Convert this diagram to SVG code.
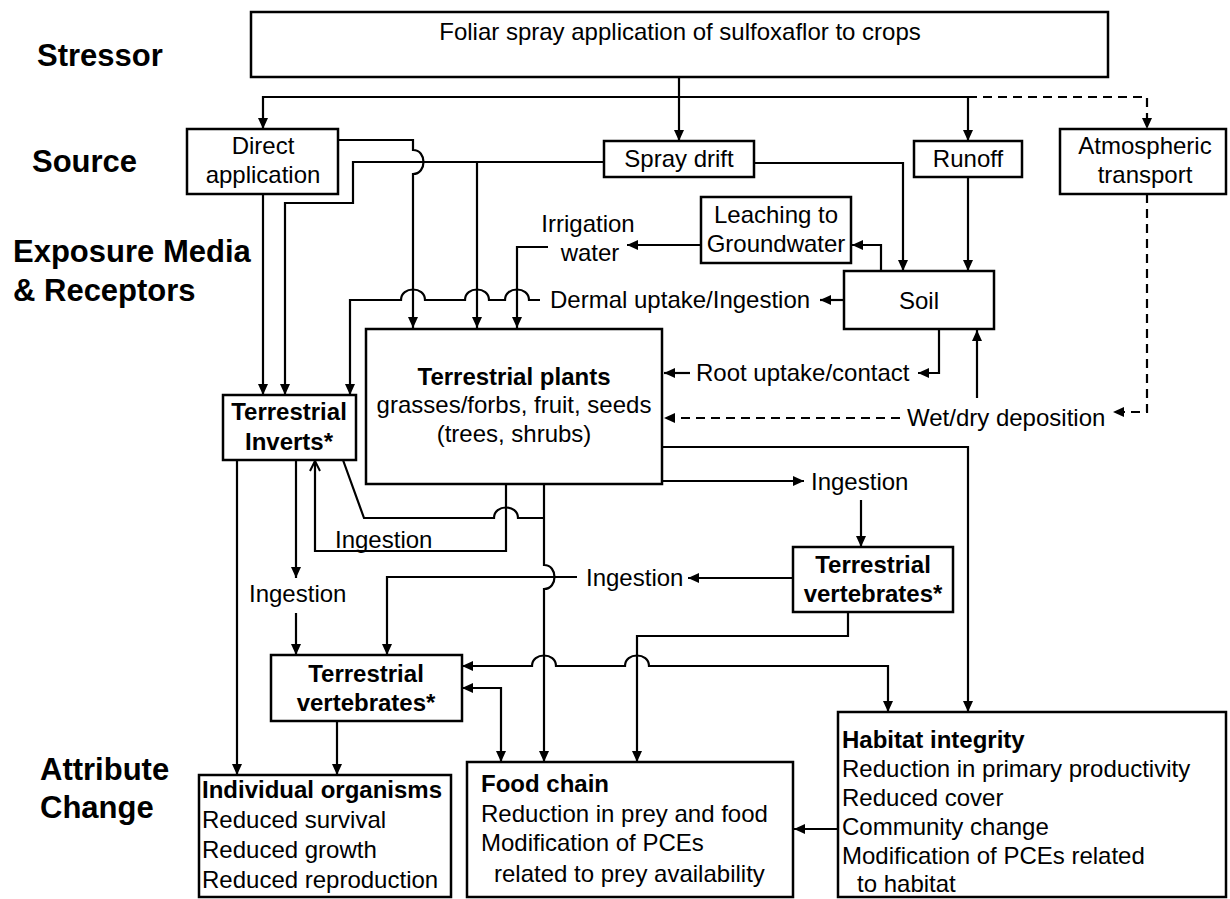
<svg xmlns="http://www.w3.org/2000/svg" width="1230" height="899" viewBox="0 0 1230 899">
<defs>
<style>
text{font-family:"Liberation Sans",Arial,sans-serif;font-size:24px;fill:#000}
.lab{font-size:31px;font-weight:bold}
.b{font-weight:bold}
.m{text-anchor:middle}
.box{fill:#fff;stroke:#000;stroke-width:2.5}
.c{fill:none;stroke:#000;stroke-width:2.2}
.d{stroke-dasharray:9 6}
</style>
<marker id="a" viewBox="0 0 11 10" refX="11" refY="5" markerWidth="11" markerHeight="10" markerUnits="userSpaceOnUse" orient="auto-start-reverse"><path d="M0,0 L11,5 L0,10 z" fill="#000"/></marker>
<marker id="o" viewBox="0 0 12 12" refX="11" refY="6" markerWidth="12" markerHeight="12" markerUnits="userSpaceOnUse" orient="auto"><path d="M1,1 L11,6 L1,11" fill="none" stroke="#000" stroke-width="2"/></marker>
</defs>
<rect width="1230" height="899" fill="#fff"/>

<g id="labels">
<text class="lab" x="37" y="66">Stressor</text>
<text class="lab" x="32" y="172">Source</text>
<text class="lab" x="13" y="262">Exposure Media</text>
<text class="lab" x="13" y="301">&amp; Receptors</text>
<text class="lab" x="40" y="780">Attribute</text>
<text class="lab" x="40" y="818">Change</text>
</g>

<g id="connectors">
<path class="c" d="M679,77 V141" marker-end="url(#a)"/>
<path class="c" d="M679,97 H263 V129" marker-end="url(#a)"/>
<path class="c" d="M679,97 H968 V141" marker-end="url(#a)"/>
<path class="c d" d="M968,97 H1147 V129" marker-end="url(#a)"/>
<path class="c" d="M263,194 V395" marker-end="url(#a)"/>
<path class="c" d="M338,140 H413 V150 C427,150 427,174 413,174 V328" marker-end="url(#a)"/>
<path class="c" d="M604,162 H353 V203 H285 V395" marker-end="url(#a)"/>
<path class="c" d="M477,162 V328" marker-end="url(#a)"/>
<path class="c" d="M754,163 H903 V271" marker-end="url(#a)"/>
<path class="c" d="M968,177 V271" marker-end="url(#a)"/>
<path class="c" d="M881,271 V245 H852" marker-end="url(#a)"/>
<path class="c" d="M701,245 H627" marker-end="url(#a)"/>
<path class="c" d="M548,247 H517 V328" marker-end="url(#a)"/>
<path class="c" d="M844,300 H820" marker-end="url(#a)"/>
<path class="c" d="M540,300 H529 C529,286 505,286 505,300 H489 C489,286 465,286 465,300 H425 C425,286 401,286 401,300 H350 V395" marker-end="url(#a)"/>
<path class="c" d="M939,329 V373 H918" marker-end="url(#a)"/>
<path class="c" d="M690,373 H664" marker-end="url(#a)"/>
<path class="c d" d="M1147,194 V412 H1113" marker-end="url(#a)"/>
<path class="c" d="M977,398 V330" marker-end="url(#a)"/>
<path class="c d" d="M900,418 H664" marker-end="url(#a)"/>
<path class="c" d="M662,447 H968 V712" marker-end="url(#a)"/>
<path class="c" d="M662,481 H804" marker-end="url(#a)"/>
<path class="c" d="M861,500 V547" marker-end="url(#a)"/>
<path class="c" d="M793,578 H688" marker-end="url(#a)"/>
<path class="c" d="M577,577 H387 V655" marker-end="url(#a)"/>
<path class="c" d="M506,484 V551 H315 V461" marker-end="url(#o)"/>
<path class="c" d="M544,484 V565 C558,565 558,589 544,589 V762" marker-end="url(#a)"/>
<path class="c" d="M343,460 L364,518 H494 C494,504 518,504 518,518 H544"/>
<path class="c" d="M237,460 V775" marker-end="url(#a)"/>
<path class="c" d="M296,460 V578" marker-end="url(#a)"/>
<path class="c" d="M296,613 V655" marker-end="url(#a)"/>
<path class="c" d="M462,666 H532 C532,652 556,652 556,666 H625 C625,652 649,652 649,666 H888 V712" marker-start="url(#a)" marker-end="url(#a)"/>
<path class="c" d="M462,688 H501 V762" marker-start="url(#a)" marker-end="url(#a)"/>
<path class="c" d="M848,612 V636 H637 V762" marker-end="url(#a)"/>
<path class="c" d="M337,721 V775" marker-end="url(#a)"/>
<path class="c" d="M838,829 H794" marker-end="url(#a)"/>
</g>

<g id="n-stressor">
<rect class="box" x="251" y="12" width="857" height="65"/>
<text class="m" x="680" y="40">Foliar spray application of sulfoxaflor to crops</text>
</g>
<g id="n-direct">
<rect class="box" x="187" y="129" width="151" height="65"/>
<text class="m" x="263" y="154">Direct</text>
<text class="m" x="263" y="183">application</text>
</g>
<g id="n-spray">
<rect class="box" x="604" y="141" width="150" height="36"/>
<text class="m" x="679" y="167">Spray drift</text>
</g>
<g id="n-runoff">
<rect class="box" x="914" y="141" width="108" height="36"/>
<text class="m" x="968" y="167">Runoff</text>
</g>
<g id="n-atmos">
<rect class="box" x="1060" y="129" width="166" height="65"/>
<text class="m" x="1145" y="154">Atmospheric</text>
<text class="m" x="1145" y="183">transport</text>
</g>
<g id="n-leach">
<rect class="box" x="701" y="197" width="150" height="66"/>
<text class="m" x="776" y="223">Leaching to</text>
<text class="m" x="776" y="252">Groundwater</text>
</g>
<g id="n-irrigation">
<text class="m" x="588" y="232">Irrigation</text>
<text class="m" x="590" y="261">water</text>
</g>
<g id="n-soil">
<rect class="box" x="844" y="271" width="150" height="58"/>
<text class="m" x="919" y="309">Soil</text>
</g>
<g id="n-dermal">
<text x="550" y="308">Dermal uptake/Ingestion</text>
</g>
<g id="n-plants">
<rect class="box" x="366" y="329" width="296" height="155"/>
<text class="m b" x="514" y="385">Terrestrial plants</text>
<text class="m" x="514" y="413">grasses/forbs, fruit, seeds</text>
<text class="m" x="514" y="442">(trees, shrubs)</text>
</g>
<g id="n-inverts">
<rect class="box" x="223" y="395" width="133" height="65"/>
<text class="m b" x="289" y="420">Terrestrial</text>
<text class="m b" x="289" y="450">Inverts*</text>
</g>
<g id="n-root">
<text x="696" y="381">Root uptake/contact</text>
</g>
<g id="n-wetdry">
<text x="907" y="426">Wet/dry deposition</text>
</g>
<g id="n-ingestion-right">
<text x="811" y="490">Ingestion</text>
</g>
<g id="n-vert-right">
<rect class="box" x="793" y="547" width="160" height="65"/>
<text class="m b" x="873" y="573">Terrestrial</text>
<text class="m b" x="873" y="602">vertebrates*</text>
</g>
<g id="n-ingestion-mid">
<text x="586" y="586">Ingestion</text>
</g>
<g id="n-ingestion-plants">
<text x="335" y="548">Ingestion</text>
</g>
<g id="n-ingestion-left">
<text x="249" y="602">Ingestion</text>
</g>
<g id="n-vert-left">
<rect class="box" x="271" y="655" width="191" height="66"/>
<text class="m b" x="366" y="682">Terrestrial</text>
<text class="m b" x="366" y="711">vertebrates*</text>
</g>
<g id="n-individual">
<rect class="box" x="199" y="775" width="252" height="122"/>
<text class="b" x="202" y="798">Individual organisms</text>
<text x="202" y="828">Reduced survival</text>
<text x="202" y="858">Reduced growth</text>
<text x="202" y="888">Reduced reproduction</text>
</g>
<g id="n-foodchain">
<rect class="box" x="467" y="762" width="326" height="135"/>
<text class="b" x="481" y="792">Food chain</text>
<text x="481" y="822">Reduction in prey and food</text>
<text x="481" y="851">Modification of PCEs</text>
<text x="494" y="882">related to prey availability</text>
</g>
<g id="n-habitat">
<rect class="box" x="838" y="712" width="388" height="185"/>
<text class="b" x="842" y="748">Habitat integrity</text>
<text x="842" y="777">Reduction in primary productivity</text>
<text x="842" y="806">Reduced cover</text>
<text x="842" y="835">Community change</text>
<text x="842" y="864">Modification of PCEs related</text>
<text x="857" y="892">to habitat</text>
</g>
</svg>
